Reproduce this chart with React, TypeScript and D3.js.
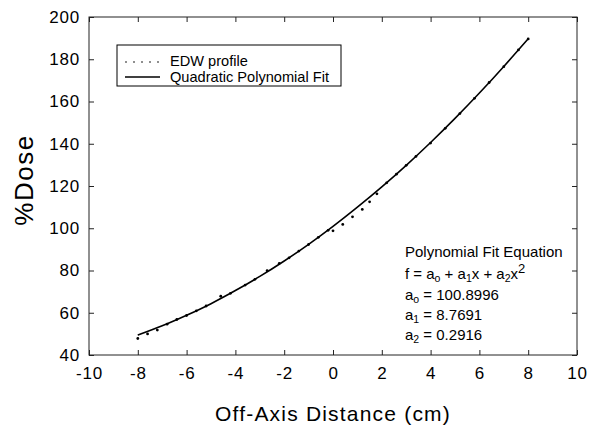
import React, { useEffect, useRef } from "react";
import * as d3 from "d3";

const width = 590;
const height = 428;
const margin = { top: 17, right: 13, bottom: 73, left: 89 };

const xTicks = [-10, -8, -6, -4, -2, 0, 2, 4, 6, 8, 10];
const yTicks = [40, 60, 80, 100, 120, 140, 160, 180, 200];

const edwX = [
  -8.0, -7.6, -7.2, -6.8, -6.4, -6.0, -5.6, -5.2, -4.6, -4.2, -3.6, -3.2, -2.7,
  -2.2, -1.8, -1.4, -1.0, -0.6, -0.2, 0.0, 0.4, 0.8, 1.2, 1.5, 1.8, 2.2, 2.6,
  3.0, 3.4, 4.0, 4.6, 5.2, 5.8, 6.4, 7.0, 7.6, 8.0,
];
const edwDose = [
  47.8, 50.0, 51.8, 54.6, 56.8, 58.7, 60.9, 63.2, 67.8, 69.2, 73.1, 75.8, 79.9,
  83.4, 86.0, 89.2, 92.3, 95.7, 99.0, 98.8, 101.8, 105.4, 108.9, 112.5, 116.3,
  121.5, 125.6, 129.8, 134.0, 140.3, 147.3, 154.3, 161.5, 169.0, 176.5, 184.4,
  189.6,
];

// quadratic fit curve
const fitX = [-8, -7, -6, -5, -4, -3, -2, -1, 0, 1, 2, 3, 4, 5, 6, 7, 8];
const fitDose = [
  49.4, 53.8, 58.8, 64.3, 70.5, 77.2, 84.5, 92.4, 100.9, 110.0, 119.6, 129.8,
  140.6, 152.0, 164.0, 176.6, 189.7,
];

const legendLabels = ["EDW profile", "Quadratic Polynomial Fit"];

const x = d3
  .scaleLinear()
  .domain([-10, 10])
  .range([margin.left, width - margin.right]);
const y = d3
  .scaleLinear()
  .domain([40, 200])
  .range([height - margin.bottom, margin.top]);

const font = "'Liberation Sans', Arial, Helvetica, sans-serif";

export default function App() {
  const ref = useRef<SVGGElement>(null);

  useEffect(() => {
    const root = d3.select(ref.current);
    root.selectAll("*").remove();

    const styleAxis = (g: any) => {
      g.select(".domain").remove();
      g.selectAll("line").attr("stroke", "#222");
      g.selectAll("text")
        .attr("font-family", font)
        .attr("font-size", 17)
        .attr("letter-spacing", 0.8)
        .attr("fill", "#000");
    };
    const plain = (d: any) => String(d);
    const blank = () => "";

    root
      .append("g")
      .attr("transform", `translate(0,${y(40)})`)
      .call(d3.axisBottom(x).tickValues(xTicks).tickSize(-5).tickPadding(12).tickFormat(plain))
      .call(styleAxis);
    root
      .append("g")
      .attr("transform", `translate(0,${y(200)})`)
      .call(d3.axisTop(x).tickValues(xTicks).tickSize(-5).tickFormat(blank))
      .call(styleAxis);
    root
      .append("g")
      .attr("transform", `translate(${x(-10)},0)`)
      .call(d3.axisLeft(y).tickValues(yTicks).tickSize(-5).tickPadding(9).tickFormat(plain))
      .call(styleAxis);
    root
      .append("g")
      .attr("transform", `translate(${x(10)},0)`)
      .call(d3.axisRight(y).tickValues(yTicks).tickSize(-5).tickFormat(blank))
      .call(styleAxis);

    root
      .append("rect")
      .attr("x", x(-10))
      .attr("y", y(200))
      .attr("width", x(10) - x(-10))
      .attr("height", y(40) - y(200))
      .attr("fill", "none")
      .attr("stroke", "#222")
      .attr("stroke-width", 1);

    const line = d3
      .line<number>()
      .x((d, i) => x(fitX[i]))
      .y((d) => y(d))
      .curve(d3.curveNatural);

    root
      .append("path")
      .attr("d", line(fitDose))
      .attr("fill", "none")
      .attr("stroke", "#000")
      .attr("stroke-width", 1.6);

    root
      .append("g")
      .selectAll("circle")
      .data(edwDose)
      .join("circle")
      .attr("cx", (d, i) => x(edwX[i]))
      .attr("cy", (d) => y(d))
      .attr("r", 1.4)
      .attr("fill", "#000");

    // legend
    const lg = root.append("g");
    lg.append("rect")
      .attr("x", 117)
      .attr("y", 45)
      .attr("width", 224)
      .attr("height", 41)
      .attr("fill", "#fff")
      .attr("stroke", "#000")
      .attr("stroke-width", 1);
    d3.range(5).forEach((k) => {
      lg.append("circle")
        .attr("cx", 126 + k * 8)
        .attr("cy", 62)
        .attr("r", 0.8)
        .attr("fill", "#000");
    });
    lg.append("line")
      .attr("x1", 125)
      .attr("x2", 160)
      .attr("y1", 77)
      .attr("y2", 77)
      .attr("stroke", "#000")
      .attr("stroke-width", 1.6);
    legendLabels.forEach((t, i) => {
      lg.append("text")
        .attr("x", 170)
        .attr("y", 66 + i * 16)
        .attr("font-family", font)
        .attr("font-size", 14.6)
        .text(t);
    });
  }, []);

  const sub = { fontSize: 10.5 };

  return (
    <svg
      width={width}
      height={height}
      style={{ position: "absolute", left: 0, top: 0, background: "#fff" }}
    >
      <g ref={ref} />
      <g fontFamily={font} fontSize={15} fill="#000">
        <text x={405} y={257}>Polynomial Fit Equation</text>
        <text x={405} y={279}>
          f = a<tspan {...sub} dy={3}>o</tspan>
          <tspan dy={-3}> + a</tspan>
          <tspan {...sub} dy={3}>1</tspan>
          <tspan dy={-3}>x + a</tspan>
          <tspan {...sub} dy={3}>2</tspan>
          <tspan dy={-3}>x</tspan>
          <tspan fontSize={13} dy={-6}>2</tspan>
        </text>
        <text x={405} y={300}>
          a<tspan {...sub} dy={3}>o</tspan>
          <tspan dy={-3}> = 100.8996</tspan>
        </text>
        <text x={405} y={320}>
          a<tspan {...sub} dy={3}>1</tspan>
          <tspan dy={-3}> = 8.7691</tspan>
        </text>
        <text x={405} y={340}>
          a<tspan {...sub} dy={3}>2</tspan>
          <tspan dy={-3}> = 0.2916</tspan>
        </text>
      </g>
      <text
        x={(x(-10) + x(10)) / 2}
        y={421}
        textAnchor="middle"
        fontFamily={font}
        fontSize={21}
        letterSpacing={1.2}
      >
        Off-Axis Distance (cm)
      </text>
      <text
        transform={`translate(33,180) rotate(-90)`}
        textAnchor="middle"
        fontFamily={font}
        fontSize={26}
        letterSpacing={1.5}
      >
        %Dose
      </text>
    </svg>
  );
}
